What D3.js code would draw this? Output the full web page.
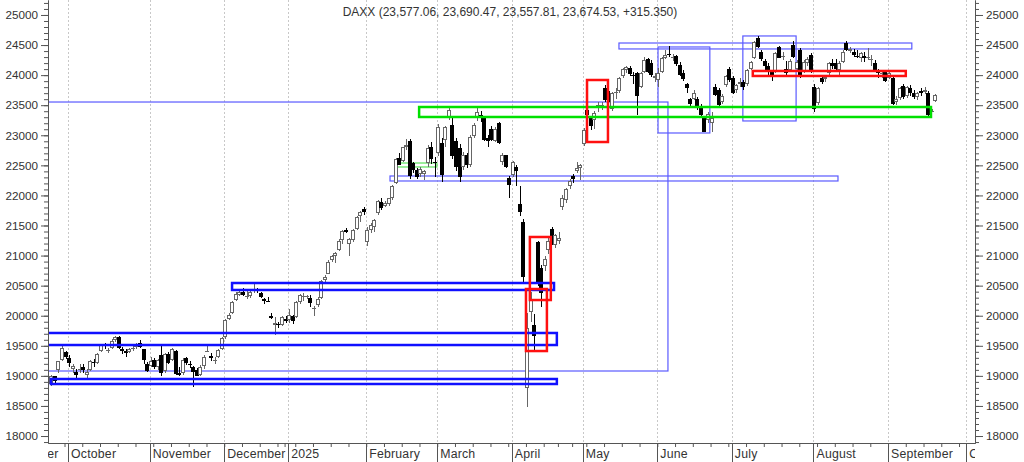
<!DOCTYPE html>
<html>
<head>
<meta charset="utf-8">
<script src="https://cdn.jsdelivr.net/npm/d3@7"></script>
<style>
  body { margin: 0; background: #fff; }
  text { font-family: "Liberation Sans", Arial, sans-serif; font-size: 11.5px; fill: #333; }
</style>
</head>
<body>
<svg id="chart" width="1024" height="462"></svg>
<script>
const title = "DAXX (23,577.06, 23,690.47, 23,557.81, 23,674.53, +315.350)";

// first bar of the series, exchange holidays (no bar)
const firstBar = "2024-09-24";
const holidays = ["2024-12-24", "2024-12-25", "2024-12-26", "2024-12-31", "2025-01-01",
                  "2025-04-18", "2025-04-21", "2025-05-01"];
const monthLabels = ["2025", "February", "March", "April", "May", "June", "July",
                     "August", "September", "October", "November", "December"];
const yTicks = [18000, 18500, 19000, 19500, 20000, 20500, 21000, 21500, 22000,
                22500, 23000, 23500, 24000, 24500, 25000];

// daily candles, one row per month (Sep 24 2024 .. Sep 18 2025)
const opens = [
  18860, 18990, 19100, 19260, 19400,
  19300, 19110, 19070, 19090, 19140, 19020, 19100, 19230, 19220, 19420, 19520, 19420, 19460, 19590, 19640, 19440, 19420, 19400, 19460, 19480, 19550, 19440, 19200,
  19160, 19260, 19140, 19350, 19080, 19360, 19260, 19420, 19050, 19040, 19290, 19200, 19150, 19100, 19020, 19160, 19400, 19330, 19250, 19320, 19450,
  19640, 19950, 20050, 20260, 20350, 20400, 20330, 20320, 20410, 20440, 20380, 20280, 20250, 19990, 19850, 19860, 19850, 19950,
  19930, 20000, 19980, 20230, 20320, 20310, 20300, 20120, 20170, 20300, 20600, 20700, 20920, 21000, 21100, 21260, 21430, 21200, 21260, 21450, 21650, 21780,
  21230, 21420, 21480, 21700, 21890, 21830, 21860, 21960, 22200, 22630, 22580, 22800, 22900, 22540, 22420, 22350, 22360, 22540, 22800, 22560,
  22700, 22870, 22920, 23290, 23170, 22900, 22790, 22470, 22670, 22500, 22980, 23290, 23330, 23290, 22950, 23100, 22900, 23200, 22560, 22670, 22290,
  22340, 22480, 21850, 21550, 18800, 20060, 19850, 21220, 20800, 20820, 21090, 21450, 21180, 21250, 21800, 21930, 22150, 22330, 22400, 22450,
  22850, 23420, 23290, 23260, 23460, 23450, 23790, 23690, 23440, 23700, 23730, 23980, 24080, 24120, 24000, 24040, 23800, 24060, 24270, 24200, 23950,
  23920, 24060, 24290, 24350, 24300, 24310, 24170, 24040, 23850, 23600, 23610, 23600, 23480, 23290, 23250, 23200, 23800, 23760, 23550, 23830, 24100,
  23950, 23760, 23850, 23880, 23860, 24100, 24290, 24620, 24380, 24230, 24150, 24050, 24050, 24470, 24300, 24100, 24090, 24500, 24100, 24420, 24060, 24200, 24340,
  23800, 23540, 23950, 23930, 24040, 24200, 24200, 24090, 24220, 24540, 24400, 24380, 24320, 24280, 24320, 24290, 24270, 24200, 24050, 24020, 24050,
  23950, 23950, 23560, 23620, 23820, 23650, 23780, 23700, 23640, 23740, 23720, 23710, 23390, 23577.06
];
const highs = [
  19010, 19000, 19250, 19490, 19420,
  19340, 19190, 19110, 19200, 19190, 19110, 19270, 19280, 19380, 19520, 19540, 19460, 19620, 19670, 19660, 19480, 19450, 19470, 19510, 19550, 19600, 19450, 19230,
  19320, 19290, 19280, 19490, 19380, 19390, 19460, 19430, 19150, 19290, 19320, 19250, 19170, 19130, 19180, 19350, 19500, 19380, 19310, 19440, 19650,
  19950, 20050, 20250, 20400, 20420, 20460, 20420, 20430, 20520, 20460, 20400, 20300, 20310, 20050, 19980, 19900, 20000, 19990,
  20120, 20020, 20250, 20360, 20380, 20340, 20350, 20160, 20310, 20590, 20680, 20920, 21010, 21060, 21270, 21420, 21460, 21300, 21450, 21650, 21740, 21800,
  21480, 21540, 21600, 21920, 21950, 21900, 21960, 22180, 22630, 22700, 22810, 22930, 22940, 22560, 22450, 22480, 22430, 22840, 22880, 22640,
  23180, 22950, 23150, 23480, 23300, 22950, 22850, 22720, 22700, 23000, 23200, 23470, 23400, 23310, 23000, 23150, 23130, 23220, 22700, 22680, 22320,
  22580, 22500, 22150, 21600, 20050, 20400, 20030, 21250, 20850, 21000, 21290, 21480, 21360, 21400, 22000, 22120, 22280, 22360, 22560, 22530,
  23120, 23450, 23320, 23400, 23560, 23560, 23830, 23740, 23720, 23780, 23970, 24120, 24160, 24150, 24050, 24060, 24060, 24300, 24280, 24250, 24030,
  24120, 24300, 24420, 24490, 24350, 24330, 24210, 24080, 23870, 23620, 23760, 23640, 23520, 23320, 23380, 23380, 23850, 23780, 23680, 24010, 24130,
  23990, 23850, 23960, 23920, 24100, 24240, 24560, 24650, 24420, 24260, 24200, 24080, 24390, 24490, 24380, 24240, 24260, 24560, 24250, 24450, 24250, 24300, 24360,
  23850, 23800, 23980, 24000, 24220, 24260, 24260, 24230, 24410, 24560, 24460, 24440, 24420, 24380, 24380, 24450, 24330, 24250, 24100, 24080, 24080,
  24080, 23970, 23650, 23800, 23850, 23820, 23830, 23760, 23720, 23780, 23800, 23730, 23430, 23690.47
];
const lows = [
  18830, 18850, 19050, 19240, 19280,
  19150, 19050, 18960, 19050, 19040, 18950, 19080, 19150, 19200, 19400, 19450, 19380, 19450, 19560, 19440, 19370, 19320, 19380, 19410, 19450, 19460, 19200, 19060,
  19140, 19110, 19100, 18990, 19050, 19190, 19250, 19020, 18990, 19020, 19180, 19130, 18820, 18990, 18990, 19120, 19390, 19250, 19190, 19300, 19430,
  19620, 19930, 20030, 20240, 20320, 20320, 20280, 20300, 20380, 20380, 20290, 20200, 20220, 19940, 19680, 19800, 19830, 19880,
  19880, 19860, 19960, 20200, 20250, 20270, 20150, 20000, 20140, 20280, 20560, 20690, 20900, 20870, 21080, 21200, 21370, 21000, 21230, 21420, 21560, 21670,
  21160, 21370, 21400, 21680, 21760, 21800, 21820, 21930, 22190, 22500, 22560, 22760, 22280, 22380, 22280, 22300, 22260, 22470, 22520, 22300,
  22660, 22230, 22800, 23250, 22600, 22400, 22230, 22430, 22450, 22480, 22950, 23240, 23220, 22900, 22800, 22900, 22880, 22850, 22500, 22450, 21950,
  22300, 22150, 21650, 20540, 18490, 19900, 19400, 20500, 20140, 20750, 21020, 21180, 21120, 21200, 21760, 21880, 22100, 22200, 22380, 22250,
  22830, 23200, 23080, 23100, 23380, 23420, 23560, 23550, 23400, 23600, 23710, 23950, 24040, 23980, 23850, 23340, 23780, 24040, 24040, 23970, 23880,
  23800, 24040, 24260, 24300, 24230, 24150, 23990, 23900, 23700, 23450, 23580, 23420, 23300, 23050, 23200, 23050, 23650, 23480, 23520, 23800, 23880,
  23680, 23700, 23800, 23760, 23820, 24080, 24270, 24450, 24230, 24080, 24000, 23900, 24040, 24280, 24250, 24000, 24060, 24280, 24060, 23960, 24030, 24150, 24030,
  23380, 23500, 23850, 23880, 24000, 24100, 24050, 24000, 24200, 24400, 24360, 24300, 24280, 24220, 24220, 24250, 24150, 24050, 23950, 23960, 23880,
  23930, 23500, 23510, 23590, 23600, 23620, 23650, 23600, 23580, 23650, 23680, 23300, 23380, 23557.81
];
const closes = [
  18990, 18920, 19240, 19470, 19320,
  19210, 19160, 19010, 19120, 19100, 19070, 19250, 19210, 19370, 19510, 19490, 19430, 19580, 19650, 19460, 19420, 19380, 19440, 19460, 19530, 19480, 19260, 19080,
  19250, 19150, 19260, 19040, 19360, 19220, 19450, 19030, 19010, 19260, 19210, 19190, 19060, 19000, 19150, 19320, 19410, 19300, 19260, 19430, 19630,
  19930, 20020, 20230, 20360, 20390, 20350, 20330, 20400, 20430, 20410, 20310, 20250, 20240, 19970, 19880, 19850, 19980, 19910,
  20020, 19910, 20220, 20340, 20330, 20320, 20210, 20130, 20270, 20580, 20650, 20900, 20990, 21040, 21250, 21410, 21390, 21280, 21430, 21640, 21730, 21730,
  21430, 21510, 21590, 21900, 21790, 21870, 21950, 22150, 22610, 22510, 22800, 22840, 22330, 22430, 22310, 22440, 22410, 22790, 22600, 22550,
  23140, 22340, 23140, 23420, 22650, 22470, 22300, 22670, 22500, 22970, 23170, 23390, 23290, 22920, 22900, 22920, 23110, 22870, 22670, 22480, 22170,
  22560, 22400, 21720, 20640, 19790, 20280, 19670, 20560, 20370, 20950, 21250, 21270, 21340, 21300, 21960, 22100, 22240, 22280, 22460, 22500,
  23090, 23340, 23150, 23370, 23500, 23500, 23590, 23580, 23700, 23720, 23960, 24100, 24130, 24020, 23990, 23660, 24030, 24250, 24060, 24000, 23990,
  24030, 24280, 24340, 24330, 24300, 24180, 24010, 23930, 23780, 23520, 23700, 23450, 23340, 23060, 23360, 23280, 23670, 23500, 23650, 23990, 23920,
  23710, 23830, 23880, 23810, 24080, 24210, 24550, 24470, 24260, 24160, 24060, 24010, 24370, 24290, 24310, 24040, 24240, 24300, 24220, 23970, 24220, 24260, 24060,
  23430, 23780, 23880, 23970, 24200, 24160, 24110, 24200, 24390, 24420, 24430, 24330, 24310, 24360, 24280, 24300, 24270, 24080, 24040, 24040, 23900,
  24040, 23520, 23600, 23780, 23640, 23800, 23700, 23640, 23700, 23700, 23760, 23340, 23400, 23674.53
];

// drawn zones: [first bar, last bar, upper value, lower value]
const thinBlueZones = [[-8, 174.0, 23553, 19081], [95.7, 221.9, 22323, 22240], [160.2, 242.7, 24534, 24435],
                       [171.2, 185.8, 24468, 23038], [195.1, 210.1, 24651, 23238]];
const thickBlueZones = [[51.2, 141.9, 20544, 20428], [-8, 142.7, 19713, 19513], [0.2, 142.7, 18948, 18865]];
const greenZones = [[103.9, 248.1, 23470, 23304]];
const lightGreenZones = [[97.4, 108.9, 22539, 22473]];
const redZones = [[151.2, 157.1, 23919, 22888], [135.1, 141.0, 21309, 20261],
                  [134.0, 139.9, 20444, 19413], [197.9, 241.0, 24069, 23986]];

const fmt = d3.timeFormat("%Y-%m-%d");
const days = d3.timeDay.range(new Date(2024, 8, 2), new Date(2025, 10, 1))
  .filter(d => d.getDay() % 6 !== 0 && !holidays.includes(fmt(d)));
const start = days.findIndex(d => fmt(d) === firstBar);

const bars = opens.map((o, i) => ({ p: start + i, o: o, h: highs[i], l: lows[i], c: closes[i] }));

const left = 48, right = 975, bottom = 443;
const svg = d3.select("#chart");
const x = d3.scaleLinear().domain([start - 0.65, start + 260.5]).range([left, right]);
const y = d3.scaleLinear().domain([17884, 25249]).range([bottom, 0]);

svg.append("defs").append("clipPath").attr("id", "plot")
  .append("rect").attr("x", left).attr("y", 0).attr("width", right - left).attr("height", bottom);
svg.select("defs").append("clipPath").attr("id", "labels")
  .append("rect").attr("x", left).attr("y", bottom).attr("width", right - left).attr("height", 462 - bottom);

// month starts and week starts
const monthStarts = [], weekStarts = [];
days.forEach((d, i) => {
  const prev = days[i - 1];
  if (!prev || prev.getMonth() !== d.getMonth()) monthStarts.push(i);
  if (!prev || d3.timeMonday.floor(prev).getTime() !== d3.timeMonday.floor(d).getTime()) weekStarts.push(i);
});

// vertical grid
svg.append("g").selectAll("line").data(monthStarts).join("line")
  .attr("x1", d => Math.round(x(d)) + 0.5).attr("x2", d => Math.round(x(d)) + 0.5)
  .attr("y1", 0).attr("y2", bottom)
  .attr("stroke", "#c8c8c8").attr("stroke-dasharray", "2,2");

const plot = svg.append("g").attr("clip-path", "url(#plot)");

// zones
function zones(data, color, width) {
  plot.append("g").selectAll("rect").data(data).join("rect")
    .attr("x", d => x(start + d[0])).attr("width", d => x(start + d[1]) - x(start + d[0]))
    .attr("y", d => y(d[2])).attr("height", d => y(d[3]) - y(d[2]))
    .attr("fill", "none").attr("stroke", color).attr("stroke-width", width);
}
zones(thinBlueZones, "#5a5aff", 1.2);
zones(lightGreenZones, "#7be87b", 1.5);

// candles
const candle = plot.append("g").attr("shape-rendering", "crispEdges")
  .selectAll("g").data(bars).join("g");
candle.append("rect")
  .attr("x", d => Math.round(x(d.p)) + 1).attr("width", 1)
  .attr("y", d => Math.round(y(d.h))).attr("height", d => Math.max(1, Math.round(y(d.l)) - Math.round(y(d.h))))
  .attr("fill", d => d.c >= d.o ? "#666" : "#000");
const bodyTop = d => Math.round(y(Math.max(d.o, d.c)));
const bodyH = d => Math.max(1, Math.round(y(Math.min(d.o, d.c))) - bodyTop(d));
candle.append("rect")
  .attr("x", d => Math.round(x(d.p)) - 1).attr("width", 4)
  .attr("y", bodyTop).attr("height", bodyH)
  .attr("fill", d => d.c >= d.o ? "#666" : "#000");
candle.filter(d => d.c >= d.o && bodyH(d) > 2).append("rect")
  .attr("x", d => Math.round(x(d.p))).attr("width", 2)
  .attr("y", d => bodyTop(d) + 1).attr("height", d => bodyH(d) - 2)
  .attr("fill", "#fff");

zones(thickBlueZones, "#1010ff", 2.5);
zones(greenZones, "#00e000", 2.5);
zones(redZones, "#ff1010", 2.5);

// y axes
function yAxis(axis, tx, major) {
  const g = svg.append("g").attr("transform", `translate(${tx},0)`);
  g.call(axis.scale(y).tickValues(major ? yTicks : d3.range(17900, 25201, 100))
    .tickSize(major ? (tx === left ? 7 : 8) : 4).tickSizeOuter(0).tickPadding(3)
    .tickFormat(major ? d => d : ""));
  g.selectAll("line, path").attr("stroke", "#555");
  g.selectAll("text").style("font-size", "11.7px").attr("fill", "#333");
}
yAxis(d3.axisLeft(), left, false);
yAxis(d3.axisLeft(), left, true);
yAxis(d3.axisRight(), right, false);
yAxis(d3.axisRight(), right, true);

// x axis: weekly ticks, month separators
const xg = svg.append("g").attr("transform", `translate(0,${bottom})`);
xg.call(d3.axisBottom(x).tickValues(weekStarts.filter(i => x(i) > left && x(i) < right))
  .tickSize(4).tickSizeOuter(0).tickFormat(""));
xg.selectAll("line, path").attr("stroke", "#555");
const mg = svg.append("g").attr("clip-path", "url(#labels)");
mg.selectAll("line").data(monthStarts).join("line")
  .attr("x1", d => Math.round(x(d)) + 0.5).attr("x2", d => Math.round(x(d)) + 0.5)
  .attr("y1", bottom).attr("y2", 462).attr("stroke", "#555");
mg.selectAll("text").data(monthStarts).join("text")
  .attr("x", d => x(d) + 3).attr("y", 458)
  .style("font-size", "12.3px").style("letter-spacing", "0.2px")
  .text(d => monthLabels[days[d].getMonth()]);

svg.append("text").attr("x", 510).attr("y", 16).attr("text-anchor", "middle")
  .style("font-size", "12px").text(title);
</script>
</body>
</html>
